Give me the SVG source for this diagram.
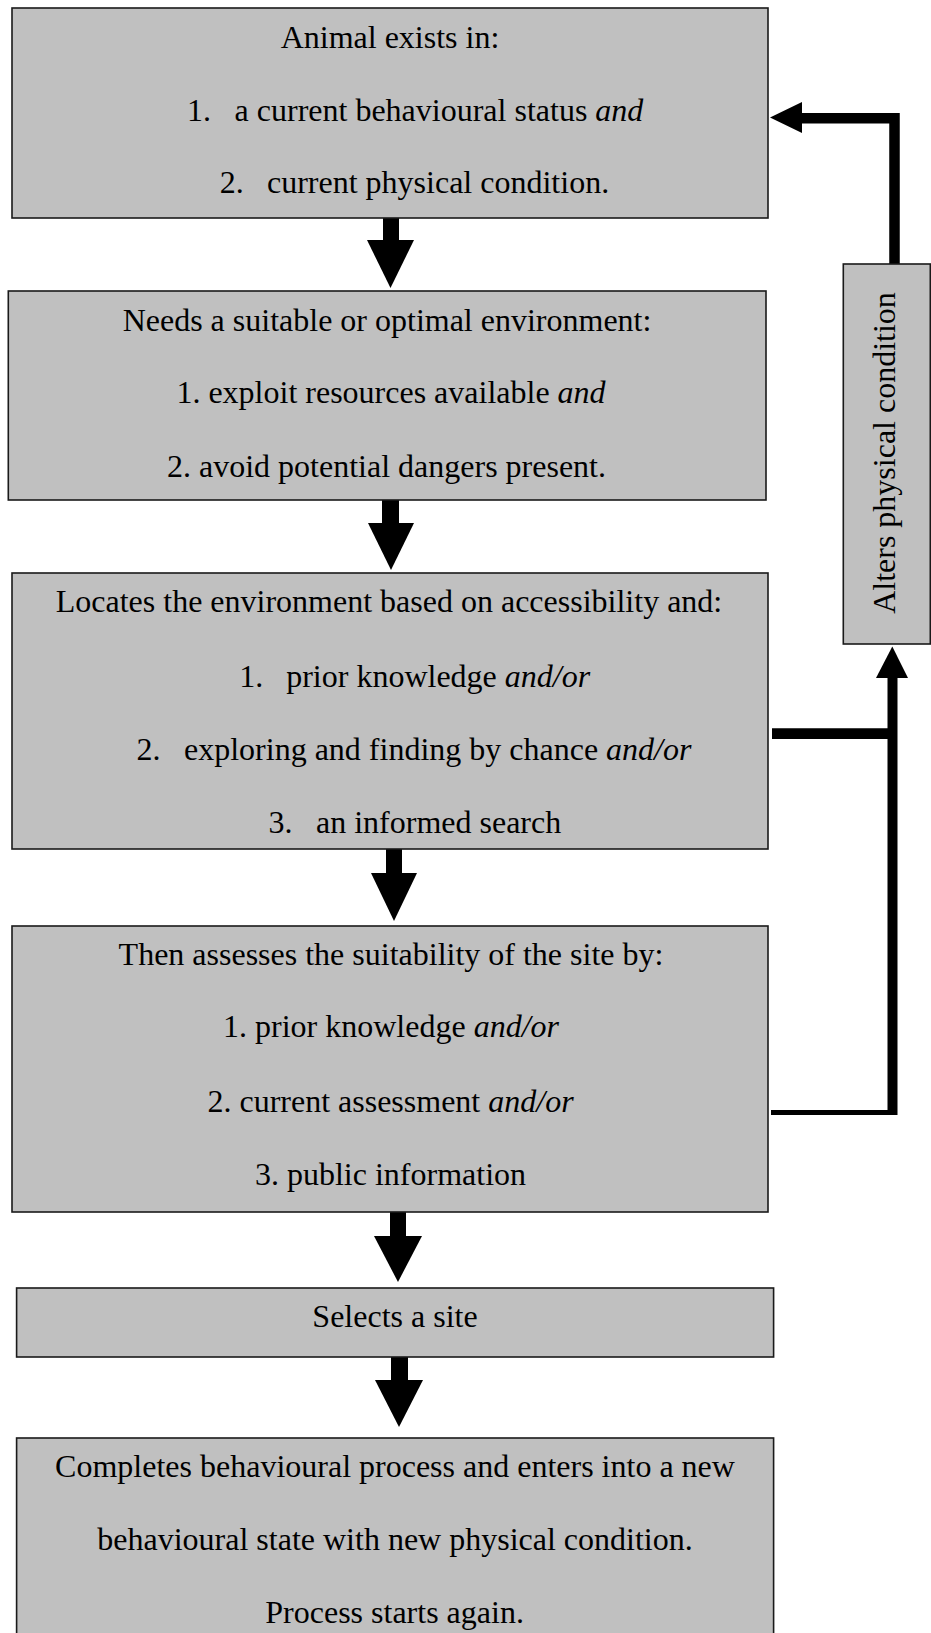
<svg xmlns="http://www.w3.org/2000/svg" width="931" height="1633" viewBox="0 0 931 1633">
<style>
.box{fill:#c0c0c0;stroke:#1a1a1a;stroke-width:1.6}
.t{font-family:"Liberation Serif","Times New Roman",serif;font-size:32px;fill:#000}
.m{text-anchor:middle}
.i{font-style:italic}
.ln{fill:none;stroke:#000;stroke-linejoin:miter;stroke-linecap:butt}
.ah{fill:#000}
</style>
<rect width="931" height="1633" fill="#fff"/>
<g id="connectors">
  <!-- down arrows -->
  <rect class="ah" x="383" y="217" width="16" height="24"/>
  <polygon class="ah" points="367,240 414,240 390.5,288"/>
  <rect class="ah" x="382" y="499" width="17" height="25"/>
  <polygon class="ah" points="368,523 414,523 391,570"/>
  <rect class="ah" x="386" y="849" width="16" height="25"/>
  <polygon class="ah" points="371,873 417,873 394,921"/>
  <rect class="ah" x="390" y="1212" width="16" height="25"/>
  <polygon class="ah" points="374,1236 422,1236 398,1282"/>
  <rect class="ah" x="391" y="1357" width="17" height="24"/>
  <polygon class="ah" points="375,1380 423,1380 399,1427"/>
  <!-- feedback loop -->
  <path class="ln" d="M772,733.7 H892.5" stroke-width="10.7"/>
  <path class="ln" d="M771,1112.5 H892.5" stroke-width="5"/>
  <path class="ln" d="M892.5,1115 V677" stroke-width="10"/>
  <polygon class="ah" points="876,678 908,678 892.3,646.5"/>
  <path class="ln" d="M894.5,264 V118.3 H801" stroke-width="10.5"/>
  <polygon class="ah" points="802,102 802,133 770,117.5"/>
</g>
<g id="node1">
  <rect class="box" x="12" y="8" width="756" height="210"/>
  <text class="t m" x="390" y="48">Animal exists in:</text>
  <text class="t" y="121"><tspan x="187">1.</tspan><tspan x="234.6">a current behavioural status </tspan><tspan class="i">and</tspan></text>
  <text class="t" y="193"><tspan x="219.7">2.</tspan><tspan x="267">current physical condition.</tspan></text>
</g>
<g id="node2">
  <rect class="box" x="8.3" y="291" width="757.7" height="209"/>
  <text class="t m" x="387" y="331">Needs a suitable or optimal environment:</text>
  <text class="t m" x="391" y="403">1. exploit resources available <tspan class="i">and</tspan></text>
  <text class="t m" x="386.5" y="477">2. avoid potential dangers present.</text>
</g>
<g id="node3">
  <rect class="box" x="12" y="573" width="756" height="276"/>
  <text class="t m" x="389" y="612">Locates the environment based on accessibility and:</text>
  <text class="t" y="687"><tspan x="239.3">1.</tspan><tspan x="286.2">prior knowledge </tspan><tspan class="i">and/or</tspan></text>
  <text class="t" y="760"><tspan x="136.6">2.</tspan><tspan x="184">exploring and finding by chance </tspan><tspan class="i">and/or</tspan></text>
  <text class="t" y="833"><tspan x="268.4">3.</tspan><tspan x="316">an informed search</tspan></text>
</g>
<g id="node4">
  <rect class="box" x="12" y="926" width="756" height="286"/>
  <text class="t m" x="391" y="965">Then assesses the suitability of the site by:</text>
  <text class="t m" x="391" y="1037">1. prior knowledge <tspan class="i">and/or</tspan></text>
  <text class="t m" x="390.5" y="1112">2. current assessment <tspan class="i">and/or</tspan></text>
  <text class="t m" x="390.5" y="1185">3. public information</text>
</g>
<g id="node5">
  <rect class="box" x="16.6" y="1288" width="757" height="69"/>
  <text class="t m" x="395" y="1327">Selects a site</text>
</g>
<g id="node6">
  <rect class="box" x="16.6" y="1438" width="757" height="210"/>
  <text class="t m" x="395" y="1477">Completes behavioural process and enters into a new</text>
  <text class="t m" x="395" y="1550">behavioural state with new physical condition.</text>
  <text class="t m" x="394.6" y="1623">Process starts again.</text>
</g>
<g id="node7">
  <rect class="box" x="843.3" y="264" width="87" height="380"/>
  <text class="t m" transform="translate(894.5,453) rotate(-90)" x="0" y="0">Alters physical condition</text>
</g>
</svg>
